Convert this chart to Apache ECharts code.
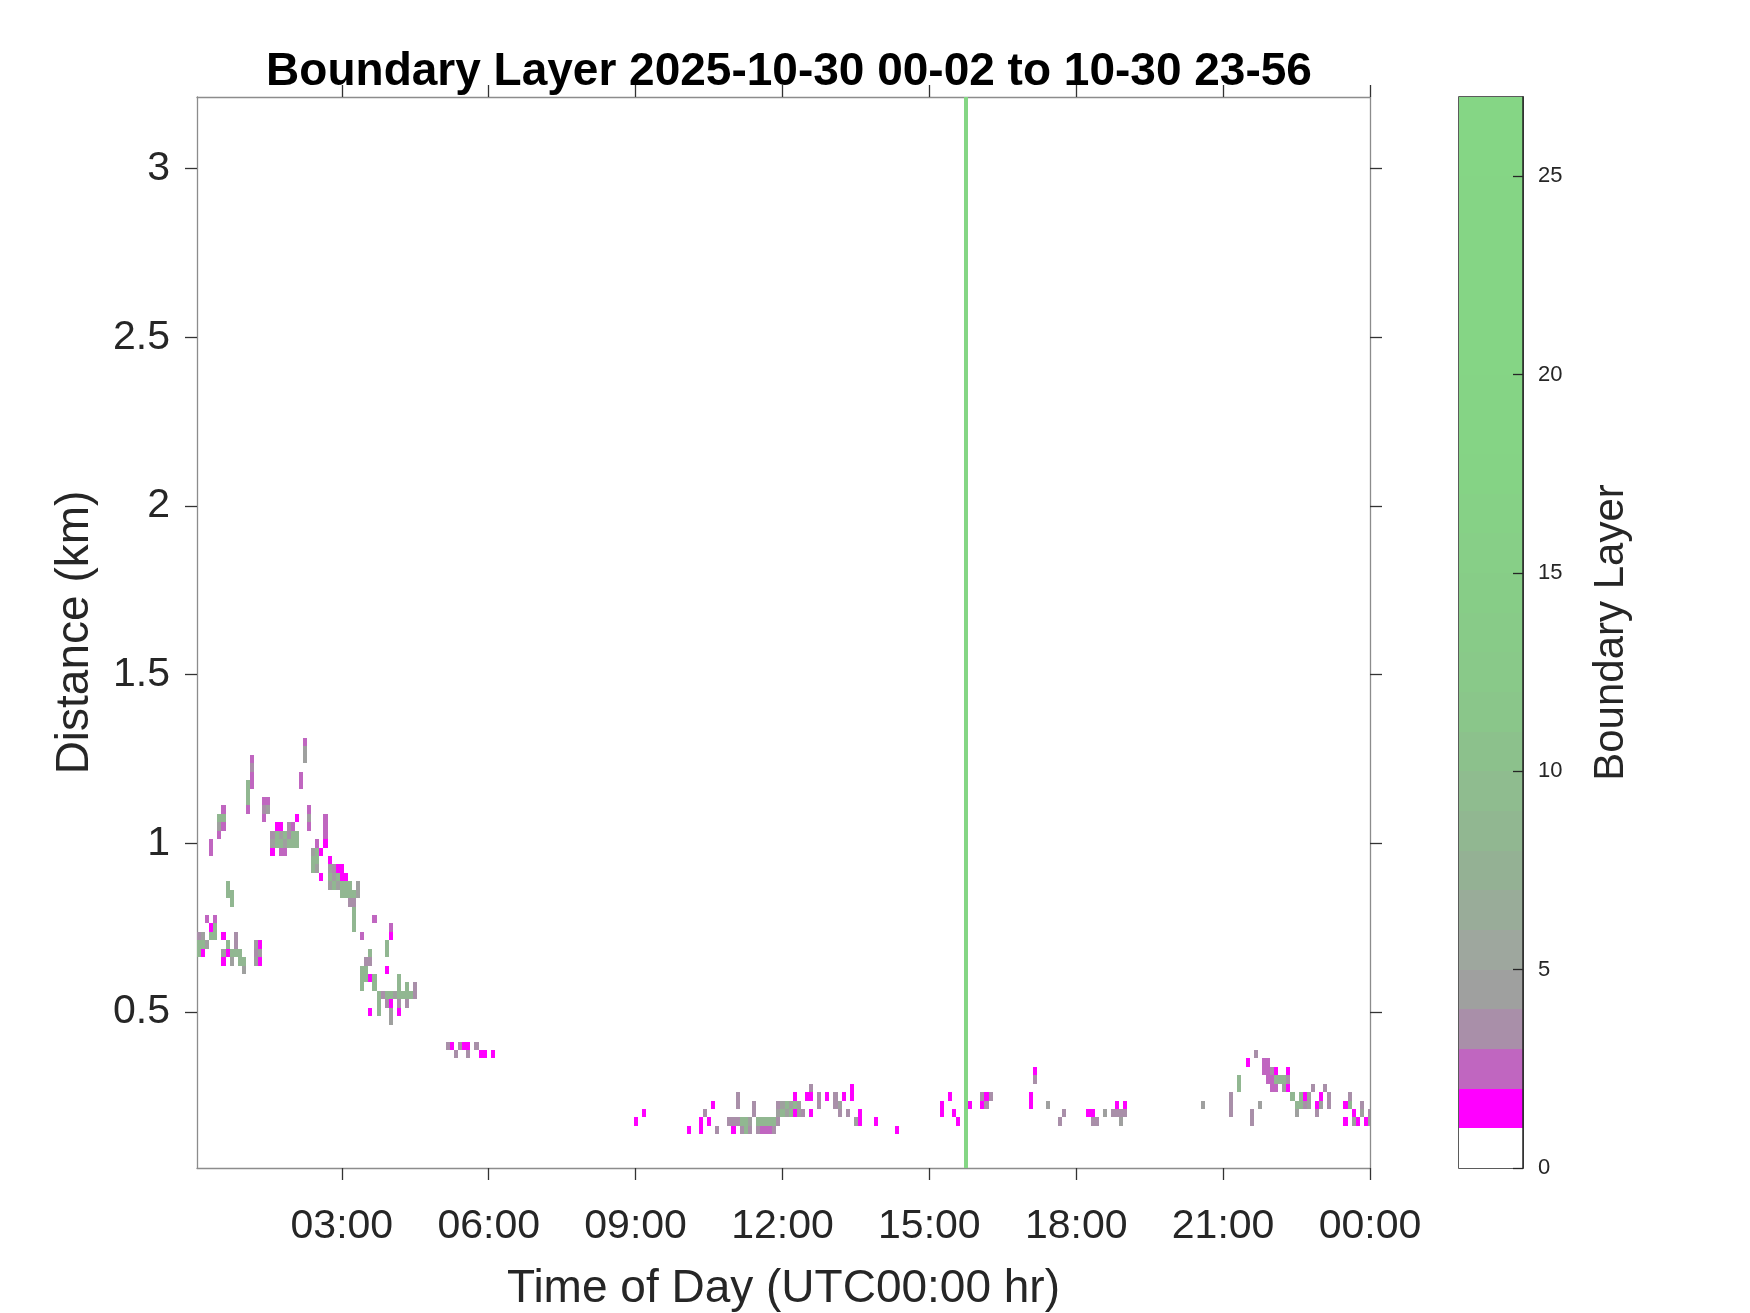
<!DOCTYPE html>
<html>
<head>
<meta charset="utf-8">
<script src="https://cdn.jsdelivr.net/npm/echarts@6/dist/echarts.min.js"></script>
<style>html,body{margin:0;padding:0;background:#fff}#chart{width:1750px;height:1313px}</style>
</head>
<body>
<div id="chart"></div>
<script>
// ---------------- data ----------------
const titleText = 'Boundary Layer 2025-10-30 00-02 to 10-30 23-56';
const xAxisName = 'Time of Day (UTC00:00 hr)';
const yAxisName = 'Distance (km)';
const colorbarName = 'Boundary Layer';
const xTickHours = [3, 6, 9, 12, 15, 18, 21, 24];
const xTickLabels = ['03:00', '06:00', '09:00', '12:00', '15:00', '18:00', '21:00', '00:00'];
const yTickKm = [0.5, 1, 1.5, 2, 2.5, 3];
const colorbarTicks = [0, 5, 10, 15, 20, 25];
const colorbarBands = [0,1,2,3,4,5,6,7,8,9,10,11,12,13,14,15,16,17,18,19,20,21,22,23,24,25,26];
const timeRange = [2.5 / 60, 24];        // hours
const heightRange = [0.0375, 3.2125];    // km
const valueRange = [0, 27];
const cellMinutes = 5;
const cellKm = 0.025;

// columns: [time, [[height km, value], ...]]
const nightColumns = [
  ["00:05", [[0.725,3.5],[0.7,8],[0.675,8]]],
  ["00:10", [[0.725,4.5],[0.7,8],[0.675,1.5]]],
  ["00:15", [[0.775,2.5],[0.7,4.5]]],
  ["00:20", [[1.0,2.5],[0.975,2.5],[0.75,1.5],[0.725,8]]],
  ["00:25", [[0.775,2.5],[0.75,8],[0.725,8]]],
  ["00:30", [[1.075,8],[1.05,4.5],[1.025,2.5]]],
  ["00:35", [[1.1,2.5],[1.075,8],[1.05,2.5],[0.725,1.5],[0.675,4.5],[0.65,1.5]]],
  ["00:40", [[0.875,8],[0.85,8],[0.7,8],[0.675,1.5]]],
  ["00:45", [[0.85,8],[0.825,8],[0.675,8],[0.65,4.5]]],
  ["00:50", [[0.725,3.5],[0.7,3.5],[0.675,8]]],
  ["00:55", [[0.675,8],[0.65,8]]],
  ["01:00", [[0.65,8],[0.625,4.5]]],
  ["01:05", [[1.175,8],[1.15,8],[1.125,8],[1.1,2.5]]],
  ["01:10", [[1.25,2.5],[1.225,3.5],[1.2,2.5],[1.175,2.5]]],
  ["01:15", [[0.7,4.5],[0.675,3.5],[0.65,4.5]]],
  ["01:20", [[0.7,1.5],[0.675,4.5],[0.65,1.5]]],
  ["01:25", [[1.125,2.5],[1.1,3.5],[1.075,2.5]]],
  ["01:30", [[1.125,2.5],[1.1,4.5]]],
  ["01:35", [[1.025,3.5],[1.0,4.5],[0.975,1.5]]],
  ["01:40", [[1.05,1.5],[1.025,8],[1.0,8]]],
  ["01:45", [[1.05,1.5],[1.025,4.5],[1.0,8],[0.975,2.5]]],
  ["01:50", [[1.025,8],[1.0,4.5],[0.975,2.5]]],
  ["01:55", [[1.05,3.5],[1.025,3.5],[1.0,8]]],
  ["02:00", [[1.05,2.5],[1.025,8],[1.0,8]]],
  ["02:05", [[1.075,1.5],[1.025,8],[1.0,8]]],
  ["02:10", [[1.2,2.5],[1.175,2.5]]],
  ["02:15", [[1.3,2.5],[1.275,4.5],[1.25,4.5]]],
  ["02:20", [[1.1,2.5],[1.075,4.5],[1.05,2.5]]],
  ["02:25", [[0.975,4.5],[0.95,8],[0.925,8]]],
  ["02:30", [[1.0,2.5],[0.975,8],[0.95,8],[0.925,4.5]]],
  ["02:35", [[0.975,1.5],[0.9,1.5]]],
  ["02:40", [[1.075,2.5],[1.05,2.5],[1.025,2.5],[1.0,1.5]]],
  ["02:45", [[0.95,1.5],[0.925,4.5],[0.9,8],[0.875,4.5]]],
  ["02:50", [[0.925,3.5],[0.9,4.5],[0.875,8]]],
  ["02:55", [[0.925,1.5],[0.9,8],[0.875,4.5]]],
  ["03:00", [[0.925,1.5],[0.9,1.5],[0.875,8],[0.85,8]]],
  ["03:05", [[0.9,1.5],[0.875,8],[0.85,8]]],
  ["03:10", [[0.875,8],[0.85,8],[0.825,3.5]]],
  ["03:15", [[0.85,8],[0.825,3.5],[0.8,8],[0.775,8],[0.75,8]]],
  ["03:20", [[0.875,4.5],[0.85,4.5]]],
  ["03:25", [[0.725,2.5],[0.625,8],[0.6,8],[0.575,8]]],
  ["03:30", [[0.65,3.5],[0.625,8],[0.6,8]]],
  ["03:35", [[0.675,8],[0.65,3.5],[0.6,1.5],[0.5,1.5]]],
  ["03:40", [[0.775,2.5],[0.6,8],[0.575,8]]],
  ["03:45", [[0.55,8],[0.525,8],[0.5,8]]],
  ["03:50", [[0.55,3.5]]],
  ["03:55", [[0.7,8],[0.675,8],[0.625,1.5],[0.55,8],[0.525,3.5]]],
  ["04:00", [[0.75,2.5],[0.725,1.5],[0.55,8],[0.525,1.5],[0.5,4.5],[0.475,4.5]]],
  ["04:05", [[0.55,4.5]]],
  ["04:10", [[0.6,8],[0.575,8],[0.55,8],[0.525,3.5],[0.5,1.5]]],
  ["04:15", [[0.55,8]]],
  ["04:20", [[0.575,8],[0.55,8],[0.525,3.5]]],
  ["04:25", [[0.55,8]]],
  ["04:30", [[0.575,3.5],[0.55,3.5]]]
];
const morningColumns = [
  ["05:10", [[0.4,3.5]]],
  ["05:15", [[0.4,1.5]]],
  ["05:20", [[0.375,3.5]]],
  ["05:25", [[0.4,3.5]]],
  ["05:30", [[0.4,1.5]]],
  ["05:35", [[0.4,1.5],[0.375,3.5]]],
  ["05:45", [[0.4,3.5]]],
  ["05:50", [[0.375,1.5]]],
  ["05:55", [[0.375,1.5]]],
  ["06:05", [[0.375,1.5]]]
];
const daytimeColumns = [
  ["09:00", [[0.175,1.5]]],
  ["09:10", [[0.2,1.5]]],
  ["10:05", [[0.15,1.5]]],
  ["10:20", [[0.175,1.5],[0.15,1.5]]],
  ["10:25", [[0.2,3.5]]],
  ["10:30", [[0.175,1.5]]],
  ["10:35", [[0.225,1.5]]],
  ["10:40", [[0.15,3.5]]],
  ["10:55", [[0.175,3.5]]],
  ["11:00", [[0.175,3.5],[0.15,1.5]]],
  ["11:05", [[0.25,3.5],[0.225,3.5],[0.175,3.5]]],
  ["11:10", [[0.175,8],[0.15,3.5]]],
  ["11:15", [[0.175,8],[0.15,8]]],
  ["11:20", [[0.175,4.5],[0.15,3.5]]],
  ["11:25", [[0.225,3.5],[0.2,3.5]]],
  ["11:30", [[0.175,8],[0.15,3.5]]],
  ["11:35", [[0.175,8],[0.15,2.5]]],
  ["11:40", [[0.175,8],[0.15,2.5]]],
  ["11:45", [[0.175,8],[0.15,2.5]]],
  ["11:50", [[0.175,8],[0.15,3.5]]],
  ["11:55", [[0.225,3.5],[0.2,4.5],[0.175,3.5]]],
  ["12:00", [[0.225,4.5],[0.2,8]]],
  ["12:05", [[0.225,8],[0.2,4.5]]],
  ["12:10", [[0.225,4.5],[0.2,8]]],
  ["12:15", [[0.25,1.5],[0.225,8],[0.2,1.5]]],
  ["12:20", [[0.225,4.5],[0.2,4.5]]],
  ["12:25", [[0.2,3.5]]],
  ["12:30", [[0.25,1.5]]],
  ["12:35", [[0.275,3.5],[0.25,1.5],[0.2,1.5]]],
  ["12:45", [[0.25,3.5],[0.225,3.5]]],
  ["12:55", [[0.25,1.5]]],
  ["13:05", [[0.25,3.5],[0.225,3.5]]],
  ["13:10", [[0.225,4.5],[0.2,3.5]]],
  ["13:15", [[0.25,1.5]]],
  ["13:20", [[0.2,3.5]]],
  ["13:25", [[0.275,1.5],[0.25,1.5]]],
  ["13:30", [[0.175,4.5]]],
  ["13:35", [[0.2,1.5],[0.175,1.5]]],
  ["13:55", [[0.175,1.5]]],
  ["14:20", [[0.15,1.5]]],
  ["15:15", [[0.225,1.5],[0.2,1.5]]],
  ["15:25", [[0.25,1.5]]],
  ["15:30", [[0.2,1.5]]],
  ["15:35", [[0.175,1.5]]]
];
const afternoonColumns = [
  ["15:50", [[0.225,1.5]]],
  ["16:05", [[0.25,3.5],[0.225,1.5]]],
  ["16:10", [[0.25,1.5],[0.225,3.5]]],
  ["16:15", [[0.25,3.5]]],
  ["17:05", [[0.25,1.5],[0.225,1.5]]],
  ["17:10", [[0.325,1.5],[0.3,3.5]]],
  ["17:25", [[0.225,4.5]]],
  ["17:40", [[0.175,3.5]]],
  ["17:45", [[0.2,3.5]]],
  ["18:15", [[0.2,1.5]]],
  ["18:20", [[0.2,1.5],[0.175,3.5]]],
  ["18:25", [[0.175,3.5]]],
  ["18:35", [[0.2,4.5]]],
  ["18:45", [[0.2,3.5]]],
  ["18:50", [[0.225,1.5],[0.2,3.5]]],
  ["18:55", [[0.2,3.5],[0.175,4.5]]],
  ["19:00", [[0.225,1.5],[0.2,3.5]]]
];
const eveningColumns = [
  ["20:35", [[0.225,4.5]]],
  ["21:10", [[0.25,3.5],[0.225,3.5],[0.2,3.5]]],
  ["21:20", [[0.3,8],[0.275,8]]],
  ["21:30", [[0.35,1.5]]],
  ["21:35", [[0.2,3.5],[0.175,3.5]]],
  ["21:40", [[0.375,3.5]]],
  ["21:45", [[0.225,4.5]]],
  ["21:50", [[0.35,2.5],[0.325,2.5]]],
  ["21:55", [[0.35,2.5],[0.325,2.5],[0.3,2.5]]],
  ["22:00", [[0.325,3.5],[0.3,2.5],[0.275,2.5]]],
  ["22:05", [[0.325,1.5],[0.3,8],[0.275,2.5]]],
  ["22:10", [[0.3,8]]],
  ["22:15", [[0.3,8],[0.275,4.5]]],
  ["22:20", [[0.325,1.5],[0.3,3.5],[0.275,1.5]]],
  ["22:25", [[0.25,8]]],
  ["22:30", [[0.225,8],[0.2,4.5]]],
  ["22:35", [[0.25,8],[0.225,8]]],
  ["22:40", [[0.25,1.5],[0.225,3.5]]],
  ["22:45", [[0.25,4.5],[0.225,4.5]]],
  ["22:50", [[0.275,3.5]]],
  ["22:55", [[0.225,1.5],[0.2,3.5]]],
  ["23:00", [[0.25,1.5],[0.225,4.5]]],
  ["23:05", [[0.275,3.5]]],
  ["23:10", [[0.25,3.5],[0.225,3.5]]],
  ["23:30", [[0.225,1.5],[0.175,1.5]]],
  ["23:35", [[0.25,3.5],[0.225,8]]],
  ["23:40", [[0.2,1.5],[0.175,4.5]]],
  ["23:45", [[0.175,1.5]]],
  ["23:50", [[0.225,3.5],[0.2,4.5]]],
  ["23:55", [[0.175,1.5]]],
  ["24:00", [[0.2,3.5],[0.175,4.5]]]
];
// columns where every range gate carries the same value: [time, value]
const fullHeightColumns = [["15:45", 26]];

// ---------------- styling ----------------
const FONT = '"Liberation Sans", Arial, Helvetica, sans-serif';
const TXT = '#262626';
const bandColors = [[0, 1, '#ffffff'], [1, 2, '#ff00ff'], [2, 3, '#c066c0'], [3, 4, '#a98fa9'], [4, 5, '#9fa09f']];
const greenStops = [[5, [160, 164, 160]], [8, [146, 180, 146]], [12, [137, 200, 137]], [18, [133, 212, 133]], [27, [133, 214, 133]]];

function colorFor(v) {
  for (const b of bandColors) if (v >= b[0] && v < b[1]) return b[2];
  const c = Math.min(Math.floor(v), 26) + 0.5;
  for (let i = 0; i < greenStops.length - 1; i++) {
    const a = greenStops[i], b = greenStops[i + 1];
    if (c >= a[0] && c <= b[0]) {
      const f = (c - a[0]) / (b[0] - a[0]);
      const rgb = a[1].map((x, j) => Math.round(x + (b[1][j] - x) * f));
      return 'rgb(' + rgb.join(',') + ')';
    }
  }
  return 'rgb(133,214,133)';
}
function toHours(s) { const p = s.split(':').map(Number); return p[0] + p[1] / 60; }

const cells = [];
[nightColumns, morningColumns, daytimeColumns, afternoonColumns, eveningColumns].forEach(group =>
  group.forEach(([t, list]) => list.forEach(([km, v]) => cells.push([toHours(t), km, v]))));
const fullCols = fullHeightColumns.map(([t, v]) => [toHours(t), v]);

const DT = cellMinutes / 60;
function clipRect(p0, p1, cs) {
  const x0 = Math.round(Math.min(p0[0], p1[0])), x1 = Math.round(Math.max(p0[0], p1[0]));
  const y0 = Math.round(Math.min(p0[1], p1[1])), y1 = Math.round(Math.max(p0[1], p1[1]));
  return echarts.graphic.clipRectByRect({x: x0, y: y0, width: x1 - x0, height: y1 - y0},
    {x: cs.x, y: cs.y, width: cs.width, height: cs.height});
}
function renderCell(params, api) {
  const t = api.value(0), h = api.value(1), v = api.value(2);
  const shape = clipRect(api.coord([t - DT / 2, h + cellKm / 2]), api.coord([t + DT / 2, h - cellKm / 2]), params.coordSys);
  return shape && {type: 'rect', shape: shape, style: {fill: colorFor(v)}};
}
function renderFullCol(params, api) {
  const t = api.value(0), v = api.value(1);
  const shape = clipRect(api.coord([t - DT / 2, heightRange[1]]), api.coord([t + DT / 2, heightRange[0]]), params.coordSys);
  return shape && {type: 'rect', shape: shape, style: {fill: colorFor(v)}};
}
function renderBand(params, api) {
  const lo = api.value(0);
  const shape = clipRect(api.coord([0, lo + 1]), api.coord([1, lo]), params.coordSys);
  return shape && {type: 'rect', shape: shape, style: {fill: colorFor(lo + 0.5)}};
}

const axisLineGray = {show: true, onZero: false, lineStyle: {color: '#8c8c8c', width: 1.3}};
const tickStyle = {color: '#333333', width: 1.3};

const chart = echarts.init(document.getElementById('chart'), null, {renderer: 'canvas'});
chart.setOption({
  backgroundColor: '#ffffff',
  animation: false,
  title: {
    text: titleText, left: 784, top: 44, textAlign: 'center',
    textStyle: {fontFamily: FONT, fontSize: 46, fontWeight: 'bold', color: '#000000'}
  },
  grid: [
    {left: 197, top: 97, width: 1173, height: 1071, show: false, outerBoundsMode: 'none', containLabel: false},
    {left: 1459, top: 97, width: 64, height: 1071, show: true, borderColor: '#262626', borderWidth: 1.5,
     backgroundColor: 'transparent', outerBoundsMode: 'none', containLabel: false}
  ],
  xAxis: [
    {gridIndex: 0, type: 'value', position: 'bottom', min: timeRange[0], max: timeRange[1],
     axisLine: axisLineGray, splitLine: {show: false},
     axisTick: {show: true, inside: false, length: 12, lineStyle: tickStyle, customValues: xTickHours},
     axisLabel: {show: true, customValues: xTickHours, margin: 38, fontFamily: FONT, fontSize: 41, color: TXT,
       formatter: v => xTickLabels[xTickHours.indexOf(Math.round(v))] || ''},
     name: xAxisName, nameLocation: 'middle', nameGap: 98,
     nameTextStyle: {fontFamily: FONT, fontSize: 46, color: TXT}},
    {gridIndex: 0, type: 'value', position: 'top', min: timeRange[0], max: timeRange[1],
     axisLine: axisLineGray, splitLine: {show: false},
     axisTick: {show: true, inside: false, length: 12, lineStyle: tickStyle, customValues: xTickHours},
     axisLabel: {show: false}},
    {gridIndex: 1, type: 'value', min: 0, max: 1, show: false}
  ],
  yAxis: [
    {gridIndex: 0, type: 'value', position: 'left', min: heightRange[0], max: heightRange[1],
     axisLine: axisLineGray, splitLine: {show: false},
     axisTick: {show: true, inside: false, length: 12, lineStyle: tickStyle, customValues: yTickKm},
     axisLabel: {show: true, customValues: yTickKm, margin: 27, fontFamily: FONT, fontSize: 41, color: TXT,
       formatter: v => String(Math.round(v * 10) / 10)},
     name: yAxisName, nameLocation: 'middle', nameGap: 99, nameRotate: 90,
     nameTextStyle: {fontFamily: FONT, fontSize: 46, color: TXT}},
    {gridIndex: 0, type: 'value', position: 'right', min: heightRange[0], max: heightRange[1],
     axisLine: axisLineGray, splitLine: {show: false},
     axisTick: {show: true, inside: false, length: 12, lineStyle: tickStyle, customValues: yTickKm},
     axisLabel: {show: false}},
    {gridIndex: 1, type: 'value', position: 'right', min: valueRange[0], max: valueRange[1], interval: 5, z: 10,
     axisLine: {show: true, onZero: false, lineStyle: {color: '#262626', width: 1.5}}, splitLine: {show: false},
     axisTick: {show: true, inside: true, length: 10, lineStyle: {color: '#262626', width: 1.3}, customValues: colorbarTicks},
     axisLabel: {show: true, customValues: colorbarTicks, margin: 15, fontFamily: FONT, fontSize: 22, color: TXT},
     name: colorbarName, nameLocation: 'middle', nameGap: 67, nameRotate: 90,
     nameTextStyle: {fontFamily: FONT, fontSize: 42, color: TXT}}
  ],
  series: [
    {type: 'custom', name: 'cells', xAxisIndex: 0, yAxisIndex: 0, data: cells, renderItem: renderCell,
     encode: {x: 0, y: 1}, silent: true},
    {type: 'custom', name: 'fullColumns', xAxisIndex: 0, yAxisIndex: 0, data: fullCols, renderItem: renderFullCol,
     encode: {x: 0}, silent: true},
    {type: 'custom', name: 'colorbar', xAxisIndex: 2, yAxisIndex: 2, data: colorbarBands.map(b => [b]),
     renderItem: renderBand, encode: {y: 0}, silent: true, z: 1}
  ]
});
</script>
</body>
</html>
